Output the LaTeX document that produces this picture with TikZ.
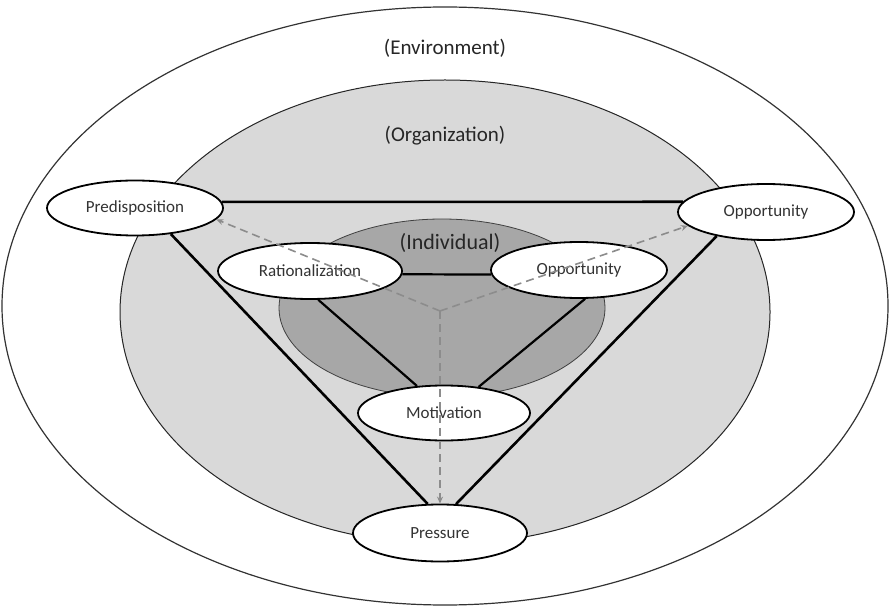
\documentclass[tikz,border=0pt]{standalone}
\usepackage{fontspec}
\setmainfont{Carlito}
\usetikzlibrary{shapes.geometric,arrows.meta}
\definecolor{orgfill}{gray}{0.85}
\definecolor{indfill}{gray}{0.655}
\begin{document}
\begin{tikzpicture}[x=1pt,y=-1pt,
  stage/.style={ellipse,draw=black,line width=1.8pt,fill=white,inner sep=0pt,
    font=\fontsize{17}{20}\selectfont,text=black!80},
  side/.style={line width=2.6pt,black},
  link/.style={line width=2.2pt,black},
  flow/.style={draw=black!45,line width=1.6pt,dash pattern=on 8pt off 5pt,
    -{Stealth[length=7pt,width=6pt]}},
  area/.style={font=\fontsize{21}{24}\selectfont,text=black!85}]
\useasboundingbox (0,0) rectangle (890,609);

% nested contexts
\draw[black!80,line width=1.2pt,fill=white] (445,306) ellipse [x radius=443pt,y radius=299pt];
\draw[black!85,line width=1pt,fill=orgfill] (445,312) ellipse [x radius=325pt,y radius=232pt];
\draw[black!75,line width=0.8pt,fill=indfill] (442,308) ellipse [x radius=163pt,y radius=89pt];

\node[area] (env) at (445,48) {(Environment)};
\node[area] (org) at (445,136) {(Organization)};
\node[area,font=\fontsize{22}{25}\selectfont] (ind) at (450,243) {(Individual)};

% outer triangle
\node[stage,minimum width=176pt,minimum height=55pt] (pred) at (135,208) {Predisposition};
\node[stage,minimum width=176pt,minimum height=56pt] (oppo) at (766,212) {Opportunity};
\node[stage,minimum width=174pt,minimum height=57pt] (press) at (440,533) {Pressure};

% inner triangle
\node[stage,minimum width=184pt,minimum height=56pt] (rat) at (310,271) {Rationalization};
\node[stage,minimum width=176pt,minimum height=56pt] (oppi) at (579,270) {Opportunity};
\node[stage,minimum width=172pt,minimum height=55pt] (mot) at (444,413) {Motivation};

\draw[side] (pred.4) -- (oppo.173);
\draw[side] (pred.-36) -- (press.113);
\draw[side] (oppo.206) -- (press.61);

\draw[link] (rat.-2.5) -- (oppi.183);
\draw[link] (rat.-74) -- (mot.135);
\draw[link] (oppi.-78) -- (mot.37);

% influence of the individual level on the outer factors
\coordinate (hub) at (440,311);
\draw[flow] (hub) -- (pred.-8);
\draw[flow] (hub) -- (oppo.190);
\draw[flow] (hub) -- (press.north);
\end{tikzpicture}
\end{document}
